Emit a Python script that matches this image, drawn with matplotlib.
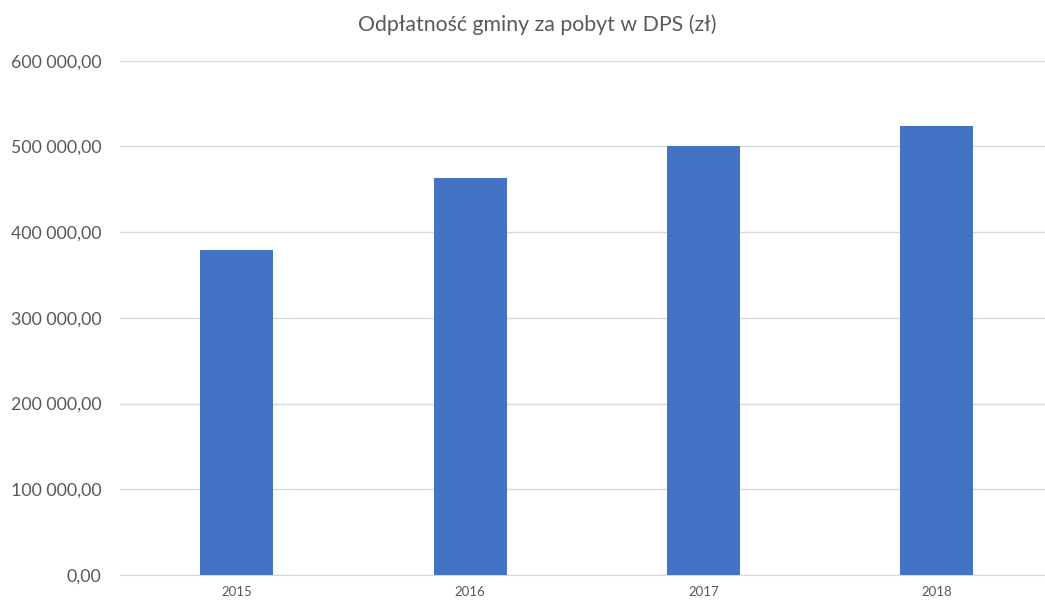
import matplotlib.pyplot as plt
from matplotlib.ticker import FuncFormatter

years = ['2015', '2016', '2017', '2018']
values = [379000, 463500, 501000, 524000]

plt.rcParams['font.family'] = ['Lato', 'DejaVu Sans']

fig = plt.figure(figsize=(10.45, 6), dpi=100)
ax = fig.add_axes([120 / 1045, 25 / 600, 933.5 / 1045, 514.3 / 600])

ax.bar(range(len(years)), values, width=0.313, color='#4472C4', zorder=3)

ax.set_xlim(-0.5, 3.5)
ax.set_ylim(0, 600000)
ax.set_yticks(range(0, 600001, 100000))
ax.yaxis.set_major_formatter(FuncFormatter(
    lambda v, p: f'{v:,.2f}'.replace(',', ' ').replace('.', ',')))
ax.set_xticks(range(len(years)))
ax.set_xticklabels(years)

ax.grid(axis='y', color='#D9D9D9', linewidth=1, zorder=0)
for s in ['top', 'right', 'left']:
    ax.spines[s].set_visible(False)
ax.spines['bottom'].set_color('#D9D9D9')
ax.tick_params(axis='both', length=0, colors='#595959')
ax.tick_params(axis='y', labelsize=12.8, pad=13.5)
ax.tick_params(axis='x', labelsize=9.5, pad=8)

fig.text(0.514, 0.958, 'Odpłatność gminy za pobyt w DPS (zł)', ha='center', va='center',
         fontsize=15.3, color='#595959')

fig.savefig('out.png')
